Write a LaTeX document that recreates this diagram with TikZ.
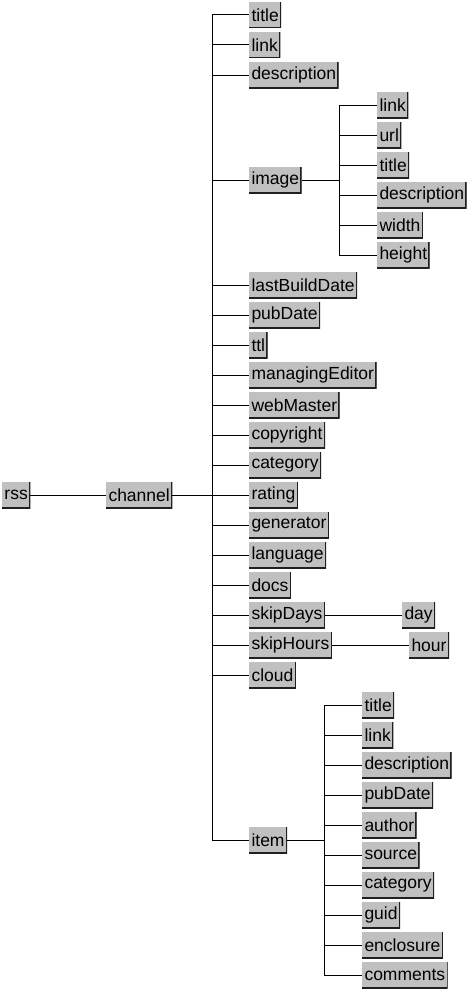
\documentclass[tikz,border=0pt]{standalone}
\usepackage{fontspec}
\setmainfont{Liberation Sans}
\usepackage{xcolor}
\usetikzlibrary{positioning}
\definecolor{boxgray}{HTML}{C0C0C0}
\definecolor{boxedge}{HTML}{202020}

\begin{document}
\begin{tikzpicture}[
x=1pt, y=-1pt,
line width=1pt,
box/.style={fill=boxgray, anchor=west, inner xsep=2.5pt, inner ysep=0pt, outer sep=0pt,
  minimum height=26pt, font=\fontsize{17.5}{20}\selectfont,
  path picture={\draw[boxedge, line width=2.4pt] (path picture bounding box.north east)
    -- (path picture bounding box.south east) -- (path picture bounding box.south west);}},
under/.style={below=4pt of #1.south west, anchor=north west}
]
\useasboundingbox (0,0) rectangle (470,990);

% Root and channel
\node (rss) [box] at (2,495) {rss};
\node (channel) [box] at (106,495) {channel};

% Children of channel
\node (ctitle) [box] at (249,15) {title};
\node (clink) [box, under=ctitle] {link};
\node (cdesc) [box, under=clink] {description};
\node (cimage) [box] at (249,180) {image};
\node (cbuild) [box] at (249,285) {lastBuildDate};
\node (cpub) [box, under=cbuild] {pubDate};
\node (cttl) [box, under=cpub] {ttl};
\node (ceditor) [box, under=cttl] {managingEditor};
\node (cmaster) [box, under=ceditor] {webMaster};
\node (ccopy) [box, under=cmaster] {copyright};
\node (ccat) [box, under=ccopy] {category};
\node (crating) [box, under=ccat] {rating};
\node (cgen) [box, under=crating] {generator};
\node (clang) [box, under=cgen] {language};
\node (cdocs) [box, under=clang] {docs};
\node (cdays) [box, under=cdocs] {skipDays};
\node (chours) [box, under=cdays] {skipHours};
\node (ccloud) [box, under=chours] {cloud};
\node (citem) [box] at (249,840) {item};

% Children of image
\node (imlink) [box] at (377,105) {link};
\node (imurl) [box, under=imlink] {url};
\node (imtitle) [box, under=imurl] {title};
\node (imdesc) [box, under=imtitle] {description};
\node (imwidth) [box, under=imdesc] {width};
\node (imheight) [box, under=imwidth] {height};

% skipDays / skipHours
\node (day) [box] at (402,615) {day};
\node (hour) [box] at (409,645) {hour};

% Children of item
\node (ittitle) [box] at (362,705) {title};
\node (itlink) [box, under=ittitle] {link};
\node (itdesc) [box, under=itlink] {description};
\node (itpub) [box, under=itdesc] {pubDate};
\node (itauthor) [box, under=itpub] {author};
\node (itsource) [box, under=itauthor] {source};
\node (itcat) [box, under=itsource] {category};
\node (itguid) [box, under=itcat] {guid};
\node (itencl) [box, under=itguid] {enclosure};
\node (itcomm) [box, under=itencl] {comments};

% Trunks
\coordinate (ctrunk) at (212,495);
\coordinate (imtrunk) at (339,180);
\coordinate (ittrunk) at (324,840);

% Connectors
\draw (rss) -- (channel);
\draw (channel) -- (ctrunk);
\draw (ctrunk |- ctitle) -- (ctrunk |- citem);
\draw (ctrunk |- ctitle) -- (ctitle);
\draw (ctrunk |- clink) -- (clink);
\draw (ctrunk |- cdesc) -- (cdesc);
\draw (ctrunk |- cimage) -- (cimage);
\draw (ctrunk |- cbuild) -- (cbuild);
\draw (ctrunk |- cpub) -- (cpub);
\draw (ctrunk |- cttl) -- (cttl);
\draw (ctrunk |- ceditor) -- (ceditor);
\draw (ctrunk |- cmaster) -- (cmaster);
\draw (ctrunk |- ccopy) -- (ccopy);
\draw (ctrunk |- ccat) -- (ccat);
\draw (ctrunk |- crating) -- (crating);
\draw (ctrunk |- cgen) -- (cgen);
\draw (ctrunk |- clang) -- (clang);
\draw (ctrunk |- cdocs) -- (cdocs);
\draw (ctrunk |- cdays) -- (cdays);
\draw (ctrunk |- chours) -- (chours);
\draw (ctrunk |- ccloud) -- (ccloud);
\draw (ctrunk |- citem) -- (citem);

\draw (cimage) -- (imtrunk);
\draw (imtrunk |- imlink) -- (imtrunk |- imheight);
\draw (imtrunk |- imlink) -- (imlink);
\draw (imtrunk |- imurl) -- (imurl);
\draw (imtrunk |- imtitle) -- (imtitle);
\draw (imtrunk |- imdesc) -- (imdesc);
\draw (imtrunk |- imwidth) -- (imwidth);
\draw (imtrunk |- imheight) -- (imheight);

\draw (cdays) -- (day);
\draw (chours) -- (hour);

\draw (citem) -- (ittrunk);
\draw (ittrunk |- ittitle) -- (ittrunk |- itcomm);
\draw (ittrunk |- ittitle) -- (ittitle);
\draw (ittrunk |- itlink) -- (itlink);
\draw (ittrunk |- itdesc) -- (itdesc);
\draw (ittrunk |- itpub) -- (itpub);
\draw (ittrunk |- itauthor) -- (itauthor);
\draw (ittrunk |- itsource) -- (itsource);
\draw (ittrunk |- itcat) -- (itcat);
\draw (ittrunk |- itguid) -- (itguid);
\draw (ittrunk |- itencl) -- (itencl);
\draw (ittrunk |- itcomm) -- (itcomm);

\end{tikzpicture}
\end{document}
